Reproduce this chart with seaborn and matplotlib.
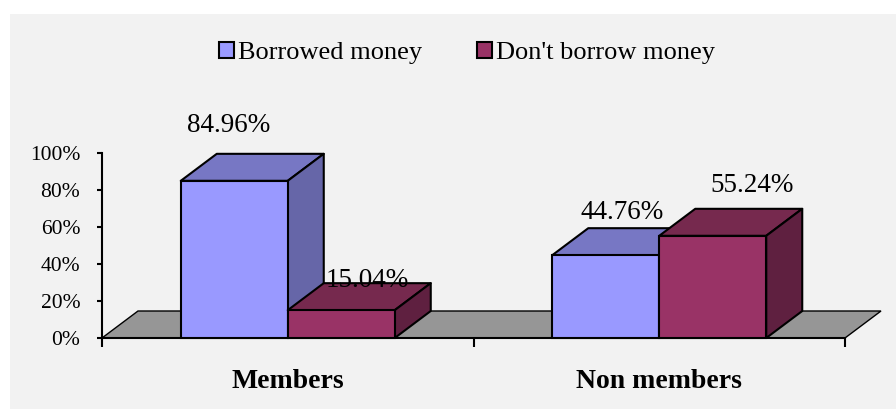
import numpy as np
import pandas as pd
import matplotlib
matplotlib.use("Agg")
import matplotlib.pyplot as plt
from matplotlib.patches import Polygon, Rectangle, Patch
import seaborn as sns

# ---- data ----
categories = ["Members", "Non members"]
series_names = ["Borrowed money", "Don't borrow money"]
borrowed = [84.96, 44.76]
dont_borrow = [15.04, 55.24]
y_ticks = [0, 20, 40, 60, 80, 100]

# ---- style ----
sns.set_style("white")
plt.rcParams["font.family"] = ["Liberation Serif", "DejaVu Serif"]
plt.rcParams["text.color"] = "black"
plt.rcParams["axes.labelcolor"] = "black"

front_cols = ["#9999FF", "#993366"]
top_cols = ["#7777C4", "#76294E"]
side_cols = ["#6666A8", "#5F2040"]
floor_col = "#969696"

W, H, DPI = 896, 409, 100
fig = plt.figure(figsize=(W / DPI, H / DPI), dpi=DPI)
fig.patch.set_facecolor("white")
fig.patches.append(Rectangle((10 / W, 0), 1, (H - 14) / H, transform=fig.transFigure,
                             facecolor="#F2F2F2", edgecolor="none", zorder=-10))

ax_left, ax_right = 102, 845
ax_bottom, ax_top = 338, 153
ax = fig.add_axes([ax_left / W, (H - ax_bottom) / H, (ax_right - ax_left) / W,
                   (ax_bottom - ax_top) / H])
ax.patch.set_alpha(0)

df = pd.DataFrame({
    "group": categories * 2,
    "series": [series_names[0]] * 2 + [series_names[1]] * 2,
    "value": borrowed + dont_borrow,
})

sns.barplot(data=df, x="group", y="value", hue="series", hue_order=series_names,
            palette=front_cols, width=0.576, dodge=True, saturation=1,
            edgecolor="black", linewidth=1.5, legend=False, ax=ax)
bars = list(ax.patches)

ax.set_xlim(-0.5, 1.5)
ax.set_ylim(0, 100)

# depth offsets in data units (36 px right, 27 px up)
px_per_x = (ax_right - ax_left) / 2.0
px_per_y = (ax_bottom - ax_top) / 100.0
DX = 36 / px_per_x
DY = 27 / px_per_y

# floor
x0, x1 = ax.get_xlim()
floor = Polygon([(x0, 0), (x1, 0), (x1 + DX, DY), (x0 + DX, DY)], closed=True,
                facecolor=floor_col, edgecolor="black", linewidth=1.0,
                zorder=1, clip_on=False)
ax.add_patch(floor)

# 3D faces
bars_sorted = sorted(bars, key=lambda p: p.get_x())
for i, p in enumerate(bars_sorted):
    x = p.get_x(); w = p.get_width(); h = p.get_height()
    fc = matplotlib.colors.to_hex(p.get_facecolor())
    k = 0 if fc.lower() == front_cols[0].lower() else 1
    base_z = 3 + 2 * i
    p.set_zorder(base_z + 1)
    p.set_clip_on(False)
    top = Polygon([(x, h), (x + w, h), (x + w + DX, h + DY), (x + DX, h + DY)],
                  closed=True, facecolor=top_cols[k], edgecolor="black",
                  linewidth=1.5, zorder=base_z, clip_on=False, joinstyle="round")
    side = Polygon([(x + w, 0), (x + w + DX, DY), (x + w + DX, h + DY), (x + w, h)],
                   closed=True, facecolor=side_cols[k], edgecolor="black",
                   linewidth=1.5, zorder=base_z, clip_on=False, joinstyle="round")
    ax.add_patch(top)
    ax.add_patch(side)

# value labels (nudges in pixels relative to the back-top centre of each bar)
nudges = {(0, 0): (-24, 28), (0, 1): (8, 3), (1, 0): (-2, 16), (1, 1): (21, 23)}
vals = [borrowed, dont_borrow]
for p in bars:
    x = p.get_x(); w = p.get_width(); h = p.get_height()
    fc = matplotlib.colors.to_hex(p.get_facecolor())
    k = 0 if fc.lower() == front_cols[0].lower() else 1
    g = int(round(x + w / 2 + (0.144 if k == 0 else -0.144)))
    nx, ny = nudges[(g, k)]
    ax.annotate(f"{vals[k][g]:.2f}%", xy=(x + w / 2 + DX / 2, h + DY),
                xytext=(nx * 0.72, ny * 0.72), textcoords="offset points",
                ha="center", va="center", fontsize=19.5, color="black",
                zorder=20, annotation_clip=False)

# axes styling
for s in ["top", "right"]:
    ax.spines[s].set_visible(False)
for s in ["left", "bottom"]:
    ax.spines[s].set_color("black")
    ax.spines[s].set_linewidth(1.5)
    ax.spines[s].set_zorder(2)

ax.set_yticks(y_ticks)
ax.set_yticklabels([f"{t}%" for t in y_ticks], fontsize=15.5)
ax.tick_params(axis="y", direction="out", length=3.6, width=1.5, pad=12,
               colors="black", left=True)

ax.set_xticks(range(len(categories)))
ax.set_xticklabels(categories, fontsize=20, fontweight="bold")
ax.set_xticks([-0.5, 0.5, 1.5], minor=True)
ax.tick_params(axis="x", which="major", length=0, pad=22, colors="black")
ax.tick_params(axis="x", which="minor", direction="out", length=6.5, width=1.5,
               colors="black", bottom=True)
ax.set_xlabel("")
ax.set_ylabel("")

# legend
handles = [Patch(facecolor=front_cols[i], edgecolor="black", linewidth=1.5)
           for i in range(2)]
leg = fig.legend(handles, series_names, loc="center",
                 bbox_to_anchor=(467 / W, (H - 53) / H),
                 ncol=2, frameon=False, fontsize=19, handlelength=0.55,
                 handleheight=0.55, handletextpad=0.15, columnspacing=2.1,
                 borderpad=0)
for t in leg.get_texts():
    t.set_color("black")

fig.savefig("out.png", dpi=DPI)
